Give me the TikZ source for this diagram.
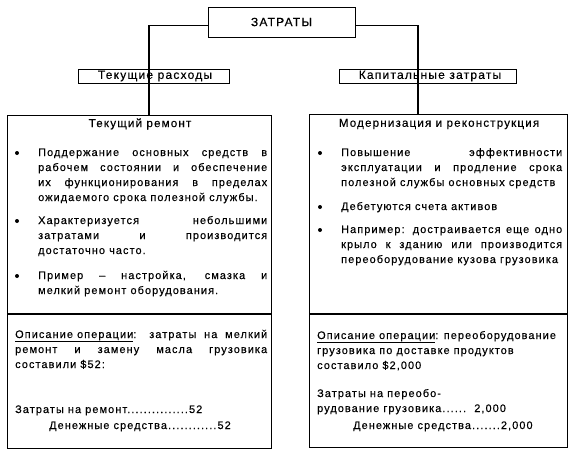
\documentclass[tikz,border=0pt]{standalone}
\usepackage{fontspec}
\setmainfont{Liberation Sans}[LetterSpace=10,FakeBold=0.3]
\newcommand\jline[1]{\makebox[\linewidth][s]{#1}}
\newcommand\body{\fontsize{10.9}{15}\selectfont}
\begin{document}
\begin{tikzpicture}[x=1pt,y=-1pt,
  box/.style={draw,line width=1.3pt,inner sep=0pt,anchor=north west},
  lbl/.style={inner sep=0pt,font=\fontsize{12}{14}\selectfont},
  ttl/.style={inner sep=0pt,font=\fontsize{11.6}{14}\selectfont},
  txt/.style={inner sep=0pt,anchor=base west,font=\body},
  dot/.style={circle,fill,inner sep=0pt,minimum size=4pt},
  conn/.style={line width=1.3pt}]
\useasboundingbox (0,0) rectangle (579,459);
% top boxes
\node[box,minimum width=147pt,minimum height=30pt] (zat) at (208,7) {};
\node[lbl] (zatt) at (281.5,22) {ЗАТРАТЫ};
\node[box,minimum width=151pt,minimum height=14pt] (tek) at (78,69) {};
\node[lbl] (tekt) at (155,76) {Текущие расходы};
\node[box,minimum width=177pt,minimum height=14pt] (kap) at (339,69) {};
\node[lbl] (kapt) at (430,76) {Капитальные затраты};
% big boxes
\node[box,minimum width=264pt,minimum height=333pt] (lbig) at (7,115) {};
\node[box,minimum width=258pt,minimum height=333pt] (rbig) at (309,114) {};
\coordinate (ltop) at (149,115);
\coordinate (rtop) at (418,114);
\draw[conn] (lbig.west |- 0,314) -- (lbig.east |- 0,314);
\draw[conn] (rbig.west |- 0,314) -- (rbig.east |- 0,314);
% connectors
\draw[conn] ([yshift=-3pt]zat.west) -| (ltop);
\draw[conn] ([yshift=-3pt]zat.east) -| (rtop);
% titles
\node[ttl] (ltitle) at (140,124) {Текущий ремонт};
\node[ttl] (rtitle) at (439,124) {Модернизация и реконструкция};
% left bullets
\node[dot] (lb1) at (17,153) {};
\node[dot] (lb2) at (17,221) {};
\node[dot] (lb3) at (17,276) {};
\node[txt] (li1) at (38,156) {\parbox[t]{229pt}{\body
\jline{Поддержание основных средств в}\\
\jline{рабочем состоянии и обеспечение}\\
\jline{их функционирования в пределах}\\
ожидаемого срока полезной службы.}};
\node[txt] (li2) at (38,224) {\parbox[t]{229pt}{\body
\jline{Характеризуется небольшими}\\
\jline{затратами и производится}\\
достаточно часто.}};
\node[txt] (li3) at (38,279) {\parbox[t]{229pt}{\body
\jline{Пример – настройка, смазка и}\\
мелкий ремонт оборудования.}};
% right bullets
\node[dot] (rb1) at (320,153) {};
\node[dot] (rb2) at (320,207) {};
\node[dot] (rb3) at (320,230) {};
\node[txt] (ri1) at (341,156) {\parbox[t]{221pt}{\body
\jline{Повышение эффективности}\\
\jline{эксплуатации и продление срока}\\
полезной службы основных средств}};
\node[txt] (ri2) at (341,210) {Дебетуются счета активов};
\node[txt] (ri3) at (341,233) {\parbox[t]{221pt}{\body
\jline{Например: достраивается еще одно}\\
\jline{крыло к зданию или производится}\\
переоборудование кузова грузовика}};
% bottom left
\node[txt] (ld) at (15,338) {\parbox[t]{252pt}{\body
\jline{\underline{Описание операции}: затраты на мелкий}\\
\jline{ремонт и замену масла грузовика}\\
составили \$52:}};
\node[txt] (le1) at (15,413) {Затраты на ремонт...............52};
\node[txt] (le2) at (49,429) {Денежные средства............52};
% bottom right
\node[txt] (rd) at (317,339) {\parbox[t]{245pt}{\body
\underline{Описание операции}: переоборудование\\
грузовика по доставке продуктов\\
составило \$2,000}};
\node[txt] (re1) at (317,397) {\parbox[t]{245pt}{\body
Затраты на переобо-\\
рудование грузовика......\ \ 2,000}};
\node[txt] (re2) at (353,429) {Денежные средства.......2,000};
\end{tikzpicture}
\end{document}
